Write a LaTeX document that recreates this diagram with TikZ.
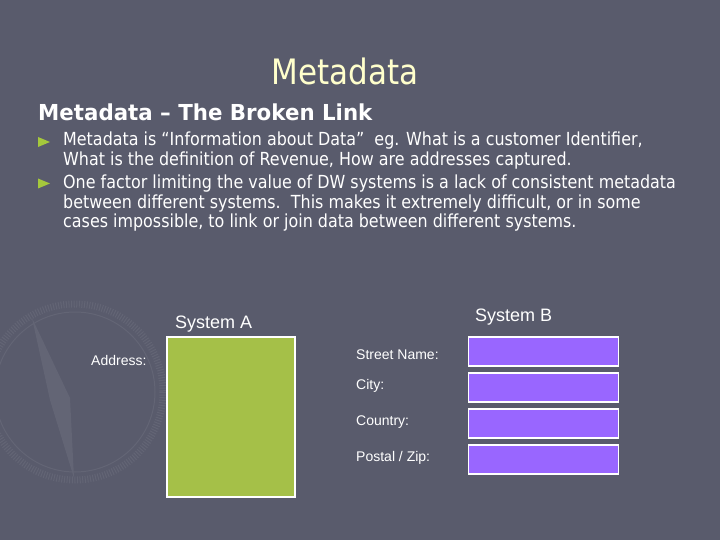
\documentclass[tikz,border=0pt]{standalone}
\usepackage{fontspec}
\newfontfamily\tah[FakeStretch=0.885]{DejaVu Sans}
\newfontfamily\tahb[FakeStretch=0.97]{DejaVu Sans}
\newfontfamily\ari{Liberation Sans}
\definecolor{bg}{RGB}{89,91,108}
\definecolor{wm}{RGB}{99,101,117}
\definecolor{ttl}{RGB}{255,255,204}
\definecolor{bul}{RGB}{165,200,60}
\definecolor{grn}{RGB}{165,192,72}
\definecolor{prp}{RGB}{153,102,255}
\tikzset{
  txt/.style={anchor=base west, inner sep=0pt, text=white},
  body/.style={txt, font=\tah\fontsize{18}{19.5}\selectfont},
  lbl/.style={txt, font=\ari\fontsize{14}{16}\selectfont},
  sys/.style={txt, font=\ari\fontsize{18}{20}\selectfont},
  field/.style={draw=white, line width=1.2pt, fill=prp, minimum width=150pt, minimum height=29pt, inner sep=0pt},
  bullet/.style={fill=bul, draw=none}
}
\begin{document}
\begin{tikzpicture}[x=1pt,y=-1pt]
\fill[bg] (0,0) rectangle (720,540);
\useasboundingbox (0,0) rectangle (720,540);
% faint compass watermark
\draw[wm, line width=7pt, dash pattern=on 1pt off 1.6pt] (75,392) circle (88);
\draw[wm, line width=1pt] (75,392) circle (80);
\fill[wm] (32,318) -- (70,398) -- (74,478) -- (50,400) -- cycle;
% title
\node[anchor=base, inner sep=0pt, text=ttl, font=\tah\fontsize{35}{40}\selectfont] (title) at (345,85) {Metadata};
\node[txt, font=\tahb\bfseries\fontsize{22}{26}\selectfont] (sub) at (38,121) {Metadata – The Broken Link};
% bullets
\fill[bullet] (38,137) -- (50,142) -- (38,147) -- cycle;
\fill[bullet] (38,178.5) -- (50,183.5) -- (38,188.5) -- cycle;
\node[body] (l1) at (63,146) {Metadata is “Information about Data”\ \ eg. What is a customer Identifier,};
\node[body] (l2) at (63,165.5) {What is the definition of Revenue, How are addresses captured.};
\node[body] (l3) at (63,189) {One factor limiting the value of DW systems is a lack of consistent metadata};
\node[body] (l4) at (63,208.5) {between different systems.\ \ This makes it extremely difficult, or in some};
\node[body] (l5) at (63,228) {cases impossible, to link or join data between different systems.};
% system A
\node[sys] (sysA) at (175,328) {System A};
\node[lbl] (addr) at (91,365) {Address:};
\node[draw=white, line width=1.2pt, fill=grn, inner sep=0pt, minimum width=128pt, minimum height=160pt] (boxA) at (231,417) {};
% system B
\node[sys] (sysB) at (475,321) {System B};
\node[lbl] (street) at (356,359) {Street Name:};
\node[lbl] (city) at (356,389) {City:};
\node[lbl] (country) at (356,425) {Country:};
\node[lbl] (postal) at (356,461) {Postal / Zip:};
\node[field] (f1) at (543.5,351.5) {};
\node[field] (f2) at (543.5,387.5) {};
\node[field] (f3) at (543.5,423.5) {};
\node[field] (f4) at (543.5,459.5) {};
\end{tikzpicture}
\end{document}
